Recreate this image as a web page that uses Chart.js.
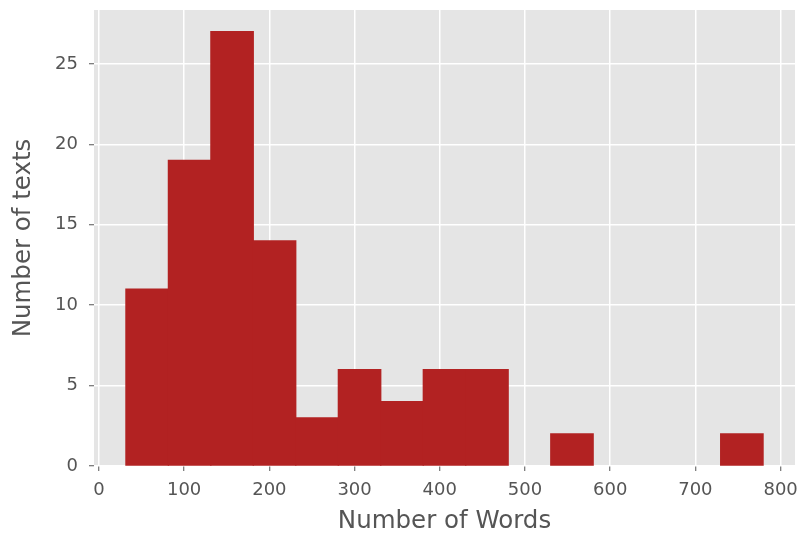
<!DOCTYPE html>
<html>
<head>
<meta charset="utf-8">
<title>Number of Words histogram</title>
<script src="https://cdn.jsdelivr.net/npm/chart.js@4/dist/chart.umd.min.js"></script>
<style>
  html, body { margin: 0; padding: 0; background: #fff; }
  #wrap { width: 799px; height: 538px; position: relative; }
</style>
</head>
<body>
<div id="wrap"><canvas id="histChart"></canvas></div>
<script>
// --- Data ---

// Histogram bin edges (words), 15 equal bins
const binEdges = [31.6, 81.5, 131.3, 181.2, 231.0, 280.9, 330.8, 380.6, 430.5, 480.3, 530.2, 580.1, 629.9, 679.8, 729.6, 779.5];

// Number of texts in each bin
const binCounts = [11, 19, 27, 14, 3, 6, 4, 6, 6, 0, 2, 0, 0, 0, 2];

// Tick labels
const xTicks = [0, 100, 200, 300, 400, 500, 600, 700, 800];
const yTicks = [0, 5, 10, 15, 20, 25];

const xTitle = 'Number of Words';
const yTitle = 'Number of texts';

// --- Build the bar points (centre of each bin) ---
const points = binCounts.map((count, i) => ({
    x: (binEdges[i] + binEdges[i + 1]) / 2,
    y: count
}));

// matplotlib-like 5% margins
const xSpan = binEdges[binEdges.length - 1] - binEdges[0];
const xMin = binEdges[0] - xSpan * 0.05;
const xMax = binEdges[binEdges.length - 1] + xSpan * 0.05;
const yMax = Math.max(...binCounts) * 1.05;

const tickFont = { family: 'DejaVu Sans', size: 18 };
const titleFont = { family: 'DejaVu Sans', size: 24.5 };
const textGray = '#555555';
const barColor = '#B22222';

// Grey panel behind the plot area
const panelBackground = {
    id: 'panelBackground',
    beforeDraw(chart) {
        const { ctx, chartArea } = chart;
        ctx.save();
        ctx.fillStyle = '#E5E5E5';
        ctx.fillRect(chartArea.left, chartArea.top, chartArea.right - chartArea.left, chartArea.bottom - chartArea.top);
        ctx.restore();
    }
};

const ctx = document.getElementById('histChart').getContext('2d');
new Chart(ctx, {
    type: 'bar',
    data: {
        datasets: [{
            data: points,
            // empty bins draw nothing (no hairline at the baseline)
            backgroundColor: (c) => (c.raw && c.raw.y > 0) ? barColor : 'rgba(0,0,0,0)',
            borderWidth: 0,
            inflateAmount: 0.6,
            barPercentage: 1.0,
            categoryPercentage: 1.0
        }]
    },
    options: {
        responsive: true,
        maintainAspectRatio: false,
        animation: false,
        layout: { padding: { top: 10, right: 4, left: 0, bottom: 0 } },
        plugins: {
            legend: { display: false },
            tooltip: { enabled: false }
        },
        scales: {
            x: {
                type: 'linear',
                min: xMin,
                max: xMax,
                offset: false,
                afterBuildTicks: (scale) => { scale.ticks = xTicks.map(v => ({ value: v })); },
                afterFit: (scale) => {
                    scale.height = 72;
                    scale.paddingLeft = 0;
                    scale.paddingRight = 0;
                },
                ticks: { font: tickFont, color: textGray, padding: 9, maxRotation: 0 },
                grid: { offset: false, color: '#FFFFFF', lineWidth: 1.5, tickColor: textGray, tickLength: 5, tickWidth: 1 },
                border: { display: false },
                title: { display: true, text: xTitle, font: titleFont, color: textGray, padding: { top: 0, bottom: 2 } }
            },
            y: {
                min: 0,
                max: yMax,
                afterBuildTicks: (scale) => { scale.ticks = yTicks.map(v => ({ value: v })); },
                afterFit: (scale) => {
                    scale.width = 94;
                    scale.paddingTop = 0;
                    scale.paddingBottom = 0;
                },
                ticks: { font: tickFont, color: textGray, padding: 11 },
                grid: { color: '#FFFFFF', lineWidth: 1.5, tickColor: textGray, tickLength: 5, tickWidth: 1 },
                border: { display: false },
                title: { display: true, text: yTitle, font: titleFont, color: textGray, padding: { top: 9, bottom: 0 } }
            }
        }
    },
    plugins: [panelBackground]
});
</script>
</body>
</html>
